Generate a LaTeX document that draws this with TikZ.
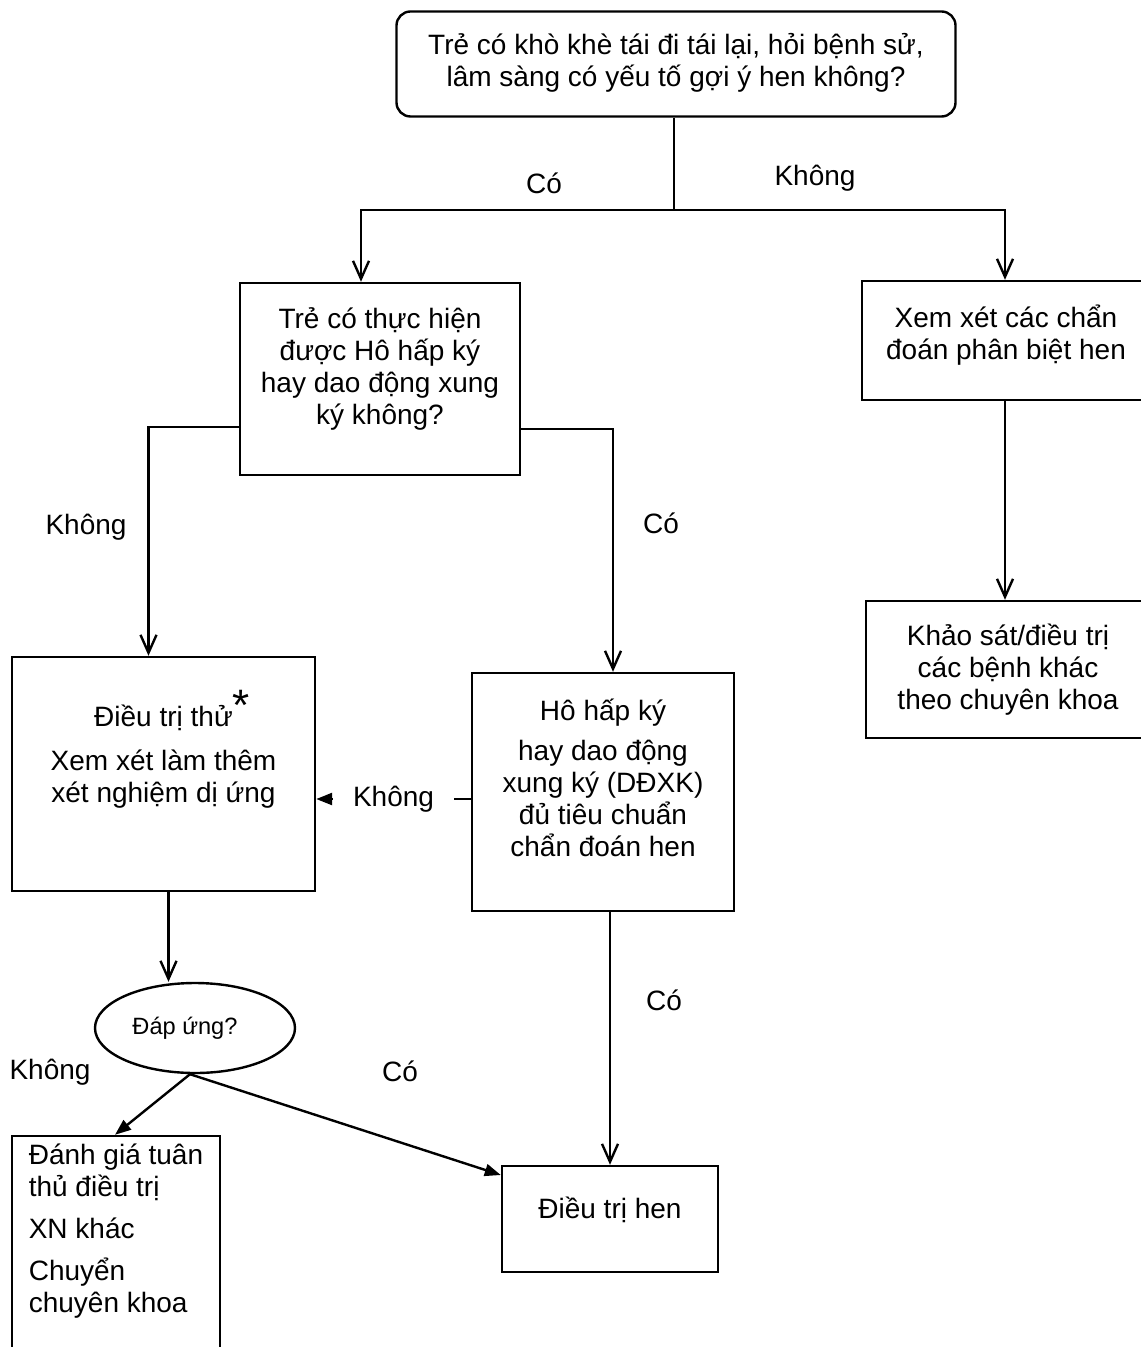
\documentclass[tikz,border=0pt]{standalone}
\usepackage{fontspec}
\setmainfont{Liberation Sans}
\usetikzlibrary{arrows.meta,shapes.geometric}
\begin{document}
\begin{tikzpicture}[x=0.5pt, y=-0.5pt, line width=1.2pt,
    font=\fontsize{14}{16}\selectfont,
    box/.style={draw, align=center, inner sep=0pt},
    openarrow/.style={-{Straight Barb[length=9pt,width=8pt]}},
    fillarrow/.style={-{Triangle[length=8pt,width=6pt]}},
    lbl/.style={inner sep=1pt}]
    \useasboundingbox (0,0) rectangle (1140,1347);

    % boxes
    \node[box, rounded corners=7pt, minimum width=279.5pt, minimum height=52.5pt] (start) at (676,64)
        {Trẻ có khò khè tái đi tái lại, hỏi bệnh sử,\\ lâm sàng có yếu tố gợi ý hen không?\\[-12pt]};
    \node[box, minimum width=140pt, minimum height=96pt] (test) at (380,379)
        {Trẻ có thực hiện\\ được Hô hấp ký\\ hay dao động xung\\ ký không?\\[-3pt]};
    \node[box, minimum width=144pt, minimum height=59.5pt] (diff) at (1006,340.5)
        {Xem xét các chẩn\\ đoán phân biệt hen\\[-8pt]};
    \node[box, minimum width=142pt, minimum height=68.5pt] (other) at (1008,669.5)
        {Khảo sát/điều trị\\ các bệnh khác\\ theo chuyên khoa};
    \node[box, minimum width=151.5pt, minimum height=117pt] (trial) at (163.5,774)
        {Điều trị thử\rlap{\raisebox{3pt}{\fontsize{22}{22}\selectfont*}}\\[6pt] Xem xét làm thêm\\ xét nghiệm dị ứng\\[12pt]};
    \node[box, minimum width=131pt, minimum height=119pt] (spiro) at (603,792)
        {Hô hấp ký\\[4pt] hay dao động\\ xung ký (DĐXK)\\ đủ tiêu chuẩn\\ chẩn đoán hen\\[-2pt]};
    \node[draw, ellipse, minimum width=100pt, minimum height=45pt, inner sep=0pt,
        font=\fontsize{11.8}{13}\selectfont] (resp) at (195,1028) {\hspace*{-10pt}Đáp ứng?};
    \node[box, align=left, minimum width=104pt, minimum height=112pt] (check) at (116,1248)
        {Đánh giá tuân\\ thủ điều trị\\[5pt] XN khác\\[5pt] Chuyển\\ chuyên khoa\\[4pt]};
    \node[box, minimum width=108pt, minimum height=53pt] (asthma) at (610,1219)
        {Điều trị hen\\[-5pt]};

    % connectors
    \coordinate (split) at (674,210);
    \draw (start.south -| split) -- (split);
    \draw[openarrow] (split) -| ([xshift=-9.5pt]test.north);
    \draw[openarrow] (split) -| ([xshift=-0.5pt]diff.north);
    \draw[openarrow] ([yshift=-24pt]test.west) -| ([xshift=-7.5pt]trial.north);
    \draw[openarrow] ([yshift=-25pt]test.east) -| ([xshift=5pt]spiro.north);
    \draw[openarrow] ([xshift=-0.5pt]diff.south) -- ([xshift=-1.5pt]other.north);
    \draw[fillarrow] ([yshift=-3.5pt]spiro.west) -- node[lbl, fill=white, inner xsep=10pt] (no3) {Không}
        ([yshift=-12.5pt]trial.east);
    \draw[openarrow] ([xshift=2.5pt]trial.south) -- ([xshift=2.5pt]trial.south |- resp.north);
    \draw[openarrow] ([xshift=3.5pt]spiro.south) -- (asthma.north);
    \draw[fillarrow] ([xshift=-2.5pt]resp.south) -- ([xshift=-0.5pt]check.north);
    \draw[fillarrow] ([xshift=-2.5pt]resp.south) -- ([yshift=22pt]asthma.west);

    % labels
    \node[lbl] (yes1) at (544,183) {Có};
    \node[lbl] (no1) at (815,178) {Không};
    \node[lbl] (no2) at (86,527) {Không};
    \node[lbl] (yes2) at (661,523) {Có};
    \node[lbl] (yes3) at (664,1000) {Có};
    \node[lbl] (no4) at (50,1072) {Không};
    \node[lbl] (yes4) at (400,1071) {Có};
\end{tikzpicture}
\end{document}
